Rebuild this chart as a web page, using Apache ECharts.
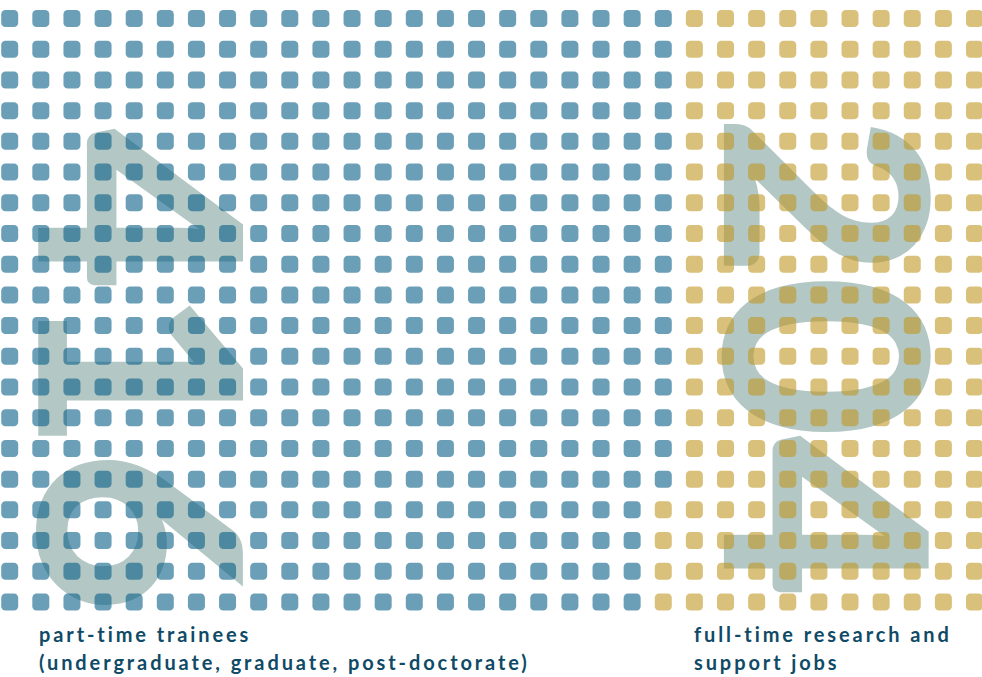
<!DOCTYPE html>
<html>
<head>
<meta charset="utf-8">
<script src="https://cdn.jsdelivr.net/npm/echarts@6/dist/echarts.min.js"></script>
<style>
  html, body { margin: 0; padding: 0; background: #ffffff; }
  #chart { width: 982px; height: 677px; }
  #chart svg text { letter-spacing: 2.9px; }
  #chart svg text[style*="282px"] { letter-spacing: -3px; }
</style>
</head>
<body>
<div id="chart"></div>
<script>
// ---- data ----
const categories = [
  'part-time trainees\n(undergraduate, graduate, post-doctorate)',
  'full-time research and\nsupport jobs'
];
const counts = [416, 204];          // numbers shown on the chart
const gridCols = 32;                // waffle columns
const gridRows = 20;                // waffle rows
const goldCells = counts[1];        // cells coloured for full-time jobs (filled from the end)

// ---- build waffle cells (column-major) ----
const totalCells = gridCols * gridRows;
const blueData = [], goldData = [];
for (let i = 0; i < totalCells; i++) {
  const col = Math.floor(i / gridRows);
  const row = i % gridRows;
  if (i >= totalCells - goldCells) goldData.push([col, row]);
  else blueData.push([col, row]);
}

const chart = echarts.init(document.getElementById('chart'), null, { renderer: 'svg' });
const gridLeft = 9.7, gridRight = 7.5, gridTop = 18.5, gridBottom = 75;

const option = {
  animation: false,
  backgroundColor: '#ffffff',
  grid: { left: gridLeft, right: gridRight, top: gridTop, bottom: gridBottom, containLabel: false },
  xAxis: { type: 'value', min: 0, max: gridCols - 1, show: false },
  yAxis: { type: 'value', min: 0, max: gridRows - 1, inverse: true, show: false },
  series: [
    {
      name: categories[0], type: 'scatter', data: blueData, z: 5,
      symbol: 'roundRect', symbolSize: 17,
      itemStyle: { color: '#035c85', opacity: 0.59 },
      silent: true
    },
    {
      name: categories[1], type: 'scatter', data: goldData, z: 5,
      symbol: 'roundRect', symbolSize: 17,
      itemStyle: { color: '#bf961e', opacity: 0.59 },
      silent: true
    }
  ]
};
chart.setOption(option);

// big rotated numbers and bottom captions, anchored to grid cells
function px(col, row) { return chart.convertToPixel({ gridIndex: 0 }, [col, row]); }
const leftCenter = px(4.42, 11.42);
const rightCenter = px(26.45, 10.96);
const digitStyle = { fontFamily: 'Lato', fontWeight: 900, fontSize: 282, fill: '#b3c7c4', textAlign: 'center', textVerticalAlign: 'middle' };
const capStyle = { fontFamily: 'Lato', fontWeight: 'bold', fontSize: 20, fill: '#0f4a66', lineHeight: 28, textAlign: 'left', textVerticalAlign: 'top' };

chart.setOption({
  graphic: [
    { type: 'text', z: 0, x: leftCenter[0], y: leftCenter[1], rotation: -Math.PI / 2,
      style: Object.assign({ text: String(counts[0]) }, digitStyle), silent: true },
    { type: 'text', z: 0, x: rightCenter[0], y: rightCenter[1], rotation: -Math.PI / 2,
      style: Object.assign({ text: String(counts[1]) }, digitStyle), silent: true },
    { type: 'text', z: 10, x: 39, y: 620,
      style: Object.assign({ text: categories[0] }, capStyle), silent: true },
    { type: 'text', z: 10, x: 694, y: 620,
      style: Object.assign({ text: categories[1] }, capStyle), silent: true }
  ]
});
</script>
</body>
</html>
